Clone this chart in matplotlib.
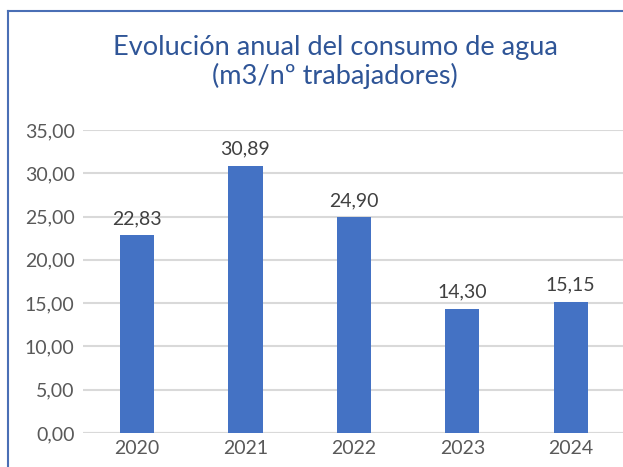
import matplotlib.pyplot as plt
from matplotlib.lines import Line2D

# data
years = ['2020', '2021', '2022', '2023', '2024']
consumo = [22.83, 30.89, 24.90, 14.30, 15.15]
yticks = [0, 5, 10, 15, 20, 25, 30, 35]

plt.rcParams['font.family'] = ['Lato', 'DejaVu Sans']

fig = plt.figure(figsize=(6.23, 4.67), dpi=100)
ax = fig.add_axes([0.133, 0.0728, 0.870, 0.649])

x = range(len(years))
ax.bar(x, consumo, width=0.315, color='#4472C4', zorder=3)
for xi, v in zip(x, consumo):
    ax.annotate(f'{v:.2f}'.replace('.', ','), (xi, v), xytext=(0, 6),
                textcoords='offset points', ha='center', va='bottom',
                fontsize=14, color='#404040')

ax.set_xlim(-0.5, len(years) - 0.5)
ax.set_ylim(0, 35)
ax.set_yticks(yticks)
ax.set_yticklabels([f'{t:.2f}'.replace('.', ',') for t in yticks])
ax.set_xticks(list(x))
ax.set_xticklabels(years)
ax.tick_params(axis='both', length=0, labelsize=14, labelcolor='#595959')
ax.tick_params(axis='x', pad=5)
ax.tick_params(axis='y', pad=6)
ax.grid(axis='y', color='#D9D9D9', linewidth=1.5, zorder=0)
ax.grid(axis='x', visible=False)
for s in ax.spines.values():
    s.set_visible(False)
ax.axhline(0, color='#D9D9D9', linewidth=1.5, zorder=2)

fig.text(0.538, 1 - 62 / 467, 'Evolución anual del consumo de agua\n(m3/nº trabajadores)',
         ha='center', va='center', fontsize=19.5, color='#2F5597', linespacing=1.1)

# chart border (left and top edges visible)
bx = 8 / 623
by = 1 - 11 / 467
fig.add_artist(Line2D([bx, bx], [0, by], color='#4A6FB5', linewidth=1.5, transform=fig.transFigure))
fig.add_artist(Line2D([bx, 1], [by, by], color='#4A6FB5', linewidth=1.5, transform=fig.transFigure))

fig.savefig('out.png', dpi=100)
